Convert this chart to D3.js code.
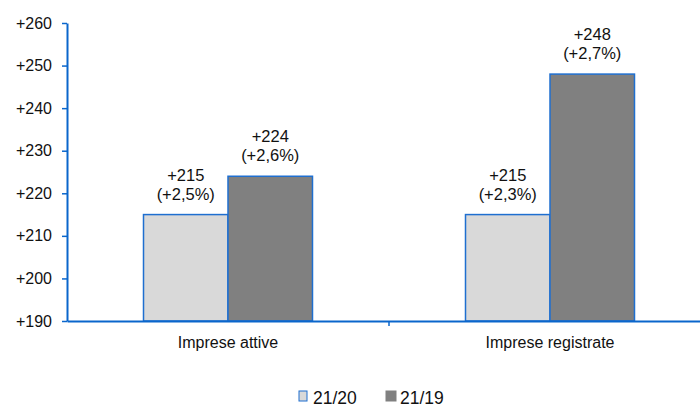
<!DOCTYPE html>
<html><head><meta charset="utf-8">
<script src="https://cdn.jsdelivr.net/npm/d3@7"></script>
<style>body{margin:0;background:#fff}svg{display:block;font-family:"Liberation Sans",Arial,sans-serif}</style>
</head><body>
<svg id="c" width="700" height="408"></svg>
<script>
const categories = ["Imprese attive", "Imprese registrate"];
const seriesNames = ["21/20", "21/19"];
const values2120 = [215, 215];
const values2119 = [224, 248];
const pct2120 = ["+2,5%", "+2,3%"];
const pct2119 = ["+2,6%", "+2,7%"];
const yTicks = [190, 200, 210, 220, 230, 240, 250, 260];
const colors = ["#d9d9d9", "#808080"];
const axisColor = "#0a66cc";

const svg = d3.select("#c");
const x0 = d3.scaleBand().domain(categories).range([67, 711]).paddingInner(0).paddingOuter(0);
const x1 = d3.scaleBand().domain(seriesNames).range([0, 169]);
const y = d3.scaleLinear().domain([190, 260]).range([321, 23]);

const data = categories.map((c, i) => ({
  cat: c,
  bars: [
    {s: seriesNames[0], v: values2120[i], p: pct2120[i]},
    {s: seriesNames[1], v: values2119[i], p: pct2119[i]}
  ]
}));

// bars
const g = svg.append("g");
const groups = g.selectAll("g.cat").data(data).join("g")
  .attr("transform", d => `translate(${x0(d.cat) + (x0.bandwidth() - 169) / 2},0)`);
groups.selectAll("rect").data(d => d.bars).join("rect")
  .attr("x", d => x1(d.s))
  .attr("y", d => y(d.v))
  .attr("width", x1.bandwidth())
  .attr("height", d => y(190) - y(d.v))
  .attr("fill", (d, i) => colors[i])
  .attr("stroke", "#1f6fd0")
  .attr("stroke-width", 1.5);

// labels
const lab = groups.selectAll("text.lab").data(d => d.bars).join("text")
  .attr("class", "lab")
  .attr("text-anchor", "middle")
  .attr("font-size", 16.5)
  .attr("fill", "#111");
lab.append("tspan").attr("x", d => x1(d.s) + x1.bandwidth() / 2)
  .attr("y", d => y(d.v) - 34).text(d => "+" + d.v);
lab.append("tspan").attr("x", d => x1(d.s) + x1.bandwidth() / 2)
  .attr("y", d => y(d.v) - 15).text(d => "(" + d.p + ")");

// y axis
const yAxis = svg.append("g").attr("transform", "translate(67,0)")
  .call(d3.axisLeft(y).tickValues(yTicks).tickFormat(d => "+" + d).tickSize(5).tickSizeOuter(0).tickPadding(10));
yAxis.select(".domain").attr("stroke", axisColor).attr("stroke-width", 2);
yAxis.selectAll(".tick line").attr("stroke", axisColor).attr("stroke-width", 1.5);
yAxis.selectAll(".tick text").attr("font-size", 16).attr("fill", "#111")
  .attr("font-family", "Liberation Sans, Arial, sans-serif");

// x axis
const xAxis = svg.append("g").attr("transform", "translate(0,321)")
  .call(d3.axisBottom(x0).tickSize(0).tickSizeOuter(0).tickPadding(16));
xAxis.select(".domain").attr("stroke", axisColor).attr("stroke-width", 2);
xAxis.selectAll(".tick text").attr("font-size", 16).attr("fill", "#111")
  .attr("font-family", "Liberation Sans, Arial, sans-serif");
// boundary ticks between categories
const bounds = [x0(categories[1])];
svg.append("g").selectAll("line").data(bounds).join("line")
  .attr("x1", d => d).attr("x2", d => d).attr("y1", 321).attr("y2", 326)
  .attr("stroke", axisColor).attr("stroke-width", 1.5);

// legend
const legend = svg.append("g");
const legX = [299, 386];
seriesNames.forEach((s, i) => {
  legend.append("rect").attr("x", legX[i]).attr("y", 391).attr("width", i === 0 ? 8 : 10).attr("height", 10)
    .attr("fill", colors[i]).attr("stroke", i === 0 ? "#1f6fd0" : colors[i]).attr("stroke-width", 1);
  legend.append("text").attr("x", legX[i] + 14).attr("y", 404).attr("font-size", 17.5)
    .attr("fill", "#111").text(s);
});
</script>
</body></html>
